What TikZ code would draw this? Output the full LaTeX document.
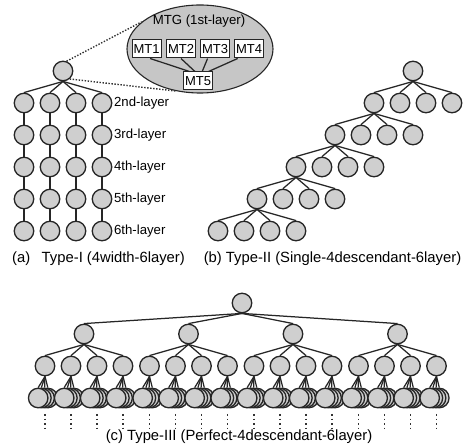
\documentclass[tikz,border=0pt]{standalone}
\usepackage{fontspec}
\setmainfont{Liberation Sans}
\usetikzlibrary{shapes,positioning}

\begin{document}
\begin{tikzpicture}[x=1pt,y=-1pt,
  mt/.style={circle,draw=black!85,fill=gray!38,line width=1.35pt,minimum size=19.5pt,inner sep=0pt},
  mtbox/.style={draw=black!85,fill=white,line width=1pt,minimum height=18pt,inner xsep=1.5pt,inner ysep=0pt,font=\fontsize{13}{14}\selectfont},
  lbl/.style={inner sep=0pt,font=\fontsize{13.2}{15}\selectfont},
  captext/.style={inner sep=0pt,font=\fontsize{14.8}{17}\selectfont},
  edge/.style={line width=1.25pt,black!85},
  zoomline/.style={line width=1.4pt,black!80,dash pattern=on 1.4pt off 1.6pt},
  vdots/.style={line width=1.6pt,black!80,dash pattern=on 1.6pt off 3pt}]
\useasboundingbox (0,0) rectangle (470,446);

% (a) Type-I: one MTG on top, four chains of MTs below
\node[mt] (a0) at (63,71) {};
\foreach \c/\x in {1/24,2/50,3/76,4/102} {
  \foreach \l/\y in {2/103,3/135,4/167,5/199,6/231}
    \node[mt] (a\c\l) at (\x,\y) {};
  \draw[edge] (a0.south) -- (a\c2.north);
  \foreach \l/\m in {2/3,3/4,4/5,5/6}
    \draw[edge] (a\c\l) -- (a\c\m);
}
\foreach \l/\t in {2/2nd,3/3rd,4/4th,5/5th,6/6th}
  \node[lbl,right=1.5pt of a4\l] (lay\l) {\t-layer};

% blow-up of the top node
\node[ellipse,draw=black!85,fill=gray!45,line width=1.1pt,minimum width=146pt,minimum height=88pt] (mtg) at (200,49) {};
\node[lbl] (mtgname) at (199,21) {MTG (1st-layer)};
\node[mtbox] (mt1) at (146.5,49) {MT1};
\node[mtbox] (mt2) at (181,49) {MT2};
\node[mtbox] (mt3) at (215,49) {MT3};
\node[mtbox] (mt4) at (249,49) {MT4};
\node[mtbox] (mt5) at (198,81) {MT5};
\draw[edge] (mt1.-69) -- (mt5.132);
\draw[edge] (mt2.south) -- (mt5.108);
\draw[edge] (mt3.-128) -- (mt5.66);
\draw[edge] (mt4.-140) -- (mt5.42);
\draw[zoomline] (a0.70) -- (mtg.155);
\draw[zoomline] (a0.-50) -- (mtg.240);

\node[captext] (capa) at (98.5,259) {(a)\hspace{0.5em} Type-I (4width-6layer)};

% (b) Type-II: only the first child goes on branching
\node[mt] (b11) at (413,71) {};
\foreach \l [evaluate=\l as \p using int(\l-1)] in {2,...,6}
  \foreach \c in {1,...,4} {
    \node[mt] (b\l\c) at ({413-39*(\l-1)+26*(\c-1)},{71+32*(\l-1)}) {};
    \draw[edge] (b\p1.south) -- (b\l\c.north);
  }
\node[captext] (capb) at (332.5,259) {(b) Type-II (Single-4descendant-6layer)};

% (c) Type-III: every node has four children
\node[mt] (c0) at (242,303) {};
\foreach \i in {1,...,4} {
  \node[mt] (c\i) at ({84+104.5*(\i-1)},334) {};
  \draw[edge] (c0.south) -- (c\i.north);
  \foreach \j in {1,...,4} {
    \node[mt] (c\i\j) at ({84+104.5*(\i-1)+26*(\j-2.5)},366) {};
    \draw[edge] (c\i.south) -- (c\i\j.north);
    \foreach \k in {4,3,2,1} {
      \node[mt] (c\i\j\k) at ({84+104.5*(\i-1)+26*(\j-2.5)+3.2*\k-10},398) {};
      \draw[edge] (c\i\j.south) -- (c\i\j\k.north);
    }
    \draw[vdots] ([yshift=-37.5pt]c\i\j.south) -- ++(0,15);
  }
}
\node[captext] (capc) at (239,437) {(c) Type-III (Perfect-4descendant-6layer)};
\end{tikzpicture}
\end{document}
